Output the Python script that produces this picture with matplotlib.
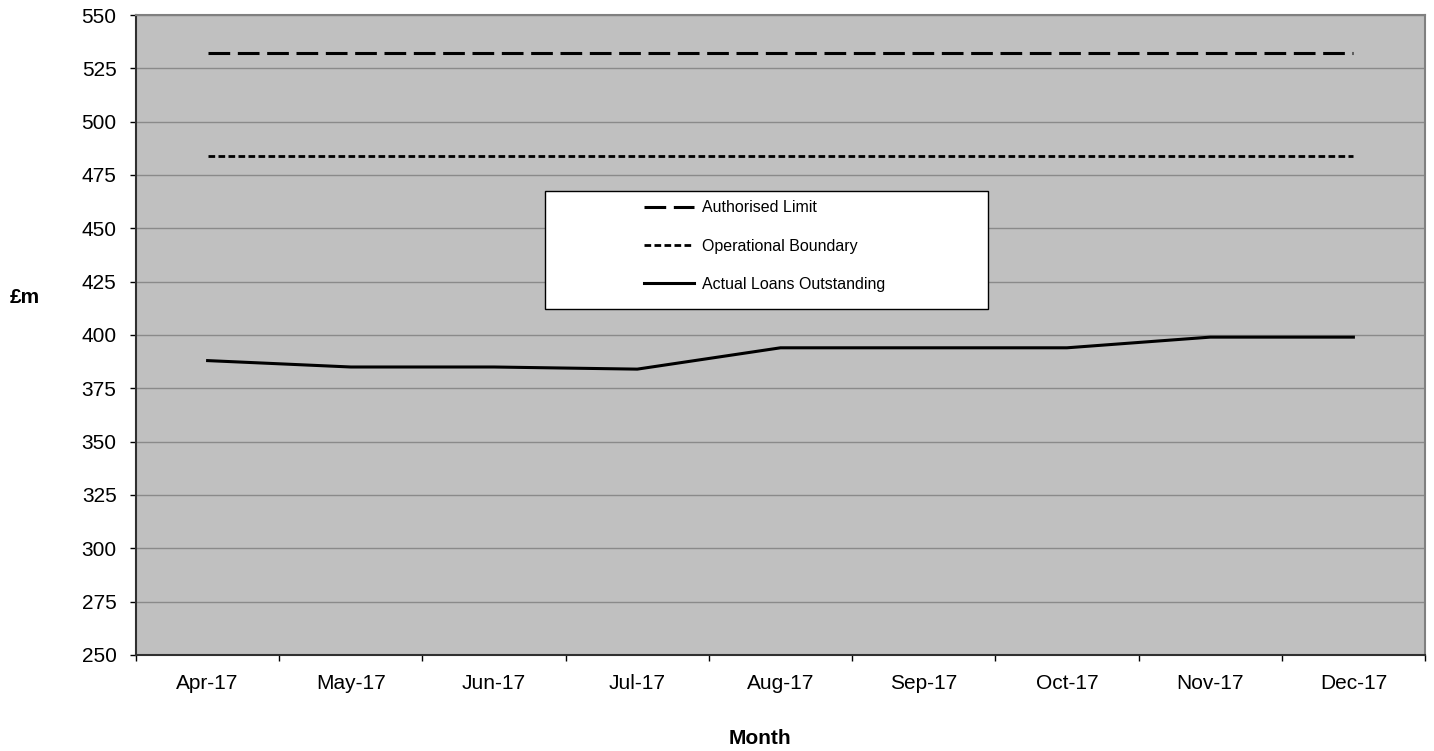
import numpy as np
import matplotlib.pyplot as plt
from matplotlib.patches import Rectangle

plt.rcParams['font.family'] = ['Liberation Sans', 'DejaVu Sans']

months = ['Apr-17', 'May-17', 'Jun-17', 'Jul-17', 'Aug-17', 'Sep-17', 'Oct-17', 'Nov-17', 'Dec-17']
authorised = [532, 532, 532, 532, 532, 532, 532, 532, 532]
operational = [484, 484, 484, 484, 484, 484, 484, 484, 484]
actual = [388, 385, 385, 384, 394, 394, 394, 399, 399]

fig = plt.figure(figsize=(14.34, 7.51), dpi=100)
ax = fig.add_axes([136 / 1434, 96 / 751, 1289 / 1434, 640 / 751])
ax.set_facecolor('#c0c0c0')

x = np.arange(len(months))
ax.plot(x, authorised, color='black', lw=2.2, dashes=(7.1, 2.5), label='Authorised Limit')
ax.plot(x, operational, color='black', lw=2.0, dashes=(2.4, 1.2), label='Operational Boundary')
ax.plot(x, actual, color='black', lw=2.2, label='Actual Loans Outstanding')

ax.set_xlim(-0.5, len(months) - 0.5)
ax.set_ylim(250, 550)
ax.set_yticks(np.arange(250, 551, 25))
ax.yaxis.grid(True, color='#8a8a8a', lw=1.0)
ax.set_axisbelow(True)

ax.set_xticks(x)
ax.set_xticklabels(months, fontsize=15)
ax.set_xticks(np.arange(-0.5, len(months), 1), minor=True)
ax.tick_params(axis='x', which='major', length=0, pad=14)
ax.tick_params(axis='x', which='minor', length=4, width=1, color='black')
ax.tick_params(axis='y', length=4, width=1, labelsize=15, pad=10)

for s in ['left', 'bottom']:
    ax.spines[s].set_color('#303030')
    ax.spines[s].set_linewidth(1.5)
for s in ['top', 'right']:
    ax.spines[s].set_color('#808080')
    ax.spines[s].set_linewidth(1.5)

fig.text(25 / 1434, 1 - 298 / 751, '£m', fontsize=15, fontweight='bold', ha='center', va='center')
fig.text(760 / 1434, 1 - 739 / 751, 'Month', fontsize=15, fontweight='bold', ha='center', va='center')

# white legend panel with frameless legend on top
box = Rectangle((545 / 1434, 1 - 309 / 751), 443 / 1434, 118 / 751,
                transform=fig.transFigure, facecolor='white', edgecolor='black', lw=1.0, zorder=5)
fig.patches.append(box)
leg = fig.legend(loc='center left', bbox_to_anchor=(630 / 1434, 1 - 246 / 751), frameon=False,
                 fontsize=11.5, handlelength=3.1, labelspacing=1.45, handletextpad=0.5)
leg.set_zorder(6)

fig.savefig('out.png', dpi=100)
